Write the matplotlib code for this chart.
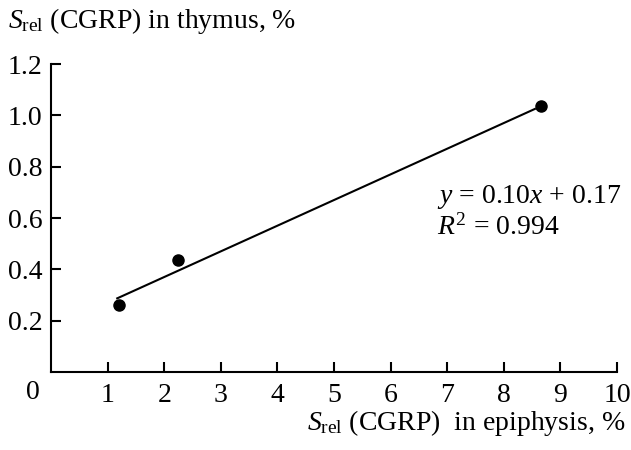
import matplotlib
matplotlib.use("Agg")
import numpy as np
from matplotlib import pyplot as plt

plt.rcParams["font.family"] = ["Liberation Serif", "DejaVu Serif"]
plt.rcParams["mathtext.fontset"] = "custom"
plt.rcParams["mathtext.rm"] = "Liberation Serif"
plt.rcParams["mathtext.it"] = "Liberation Serif:italic"
plt.rcParams["mathtext.bf"] = "Liberation Serif:bold"

# data
epiphysis = [1.2, 2.25, 8.65]
thymus = [0.26, 0.435, 1.035]
fit_slope = 0.10
fit_intercept = 0.17
fit_range = [1.17, 8.55]
r_squared = 0.994

x_ticks = list(range(1, 11))
y_ticks = [0.2, 0.4, 0.6, 0.8, 1.0, 1.2]

FS = 20

fig = plt.figure(figsize=(6.31, 4.5), dpi=100)
ax = fig.add_axes([51 / 631, 78 / 450, 566 / 631, 308 / 450])

fit_x = np.array(fit_range)
ax.plot(fit_x, fit_slope * fit_x + fit_intercept, color="black", linewidth=1.5)
ax.plot(epiphysis, thymus, "o", color="black", markersize=8, zorder=3)

ax.set_xlim(0, 10)
ax.set_ylim(0, 1.2)
ax.set_xticks(x_ticks)
ax.set_yticks(y_ticks)
ax.set_xticklabels([str(t) for t in x_ticks])
ax.set_yticklabels([f"{t:.1f}" for t in y_ticks])

for side in ("top", "right"):
    ax.spines[side].set_visible(False)
for side in ("left", "bottom"):
    ax.spines[side].set_linewidth(1.5)
ax.tick_params(direction="in", length=7, width=1.5, labelsize=FS)
ax.tick_params(axis="y", pad=6)
ax.tick_params(axis="x", pad=8)

ax.text(-0.032, -0.068, "0", transform=ax.transAxes, ha="center", va="center", fontsize=FS)

ax.text(0.682, 0.568, f"$y$ = {fit_slope:.2f}$x$ + {fit_intercept:.2f}",
        transform=ax.transAxes, ha="left", va="center", fontsize=FS)
ax.text(0.682, 0.471, f"$R^2$ = {r_squared:.3f}",
        transform=ax.transAxes, ha="left", va="center", fontsize=FS)

fig.text(8 / 631, 1 - 28 / 450, r"$S_{\mathrm{rel}}$ (CGRP) in thymus, %",
         ha="left", va="baseline", fontsize=FS)
fig.text(625 / 631, 1 - 430 / 450, r"$S_{\mathrm{rel}}$ (CGRP)  in epiphysis, %",
         ha="right", va="baseline", fontsize=FS)

fig.savefig("out.png", dpi=100)
